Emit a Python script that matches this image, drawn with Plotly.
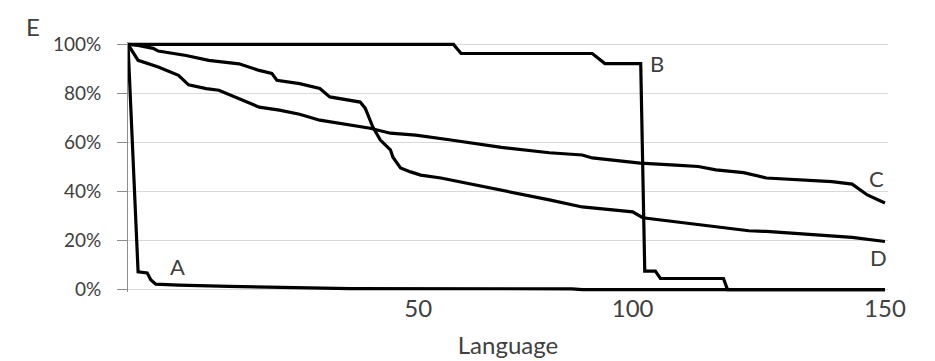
import plotly.graph_objects as go

# ---- data ----
a_x = [0, 2, 3.8, 4.5, 5.5, 10, 20, 30, 44, 88, 90, 150]
a_y = [100, 7.2, 6.8, 4, 2.2, 1.8, 1.3, 0.8, 0.4, 0.3, 0, 0]

b_x = [0, 32, 64.5, 66, 92, 94.5, 101.6, 102.4, 104.5, 105.5, 118, 118.8, 150]
b_y = [100, 100, 100, 96.3, 96.3, 92.2, 92.2, 7.5, 7.5, 4.5, 4.5, 0, 0]

c_x = [0, 2, 6, 10, 12, 15.5, 18, 22, 26, 30, 34, 38, 42, 48, 52, 57, 64, 74,
       83.5, 90, 92, 101.5, 108.5, 113, 116.5, 122, 126.5, 133, 139.5, 143.5, 146.5, 150]
c_y = [100, 93.5, 90.8, 87.4, 83.5, 82, 81.3, 78, 74.4, 73.2, 71.5, 69.1, 67.8, 65.8, 63.8, 63, 61, 58,
       55.8, 54.9, 53.7, 51.6, 50.8, 50.2, 48.8, 47.7, 45.5, 44.7, 44, 43, 38.6, 35.3]

d_x = [0, 2, 5, 6, 11.5, 16, 22, 26, 28.5, 29.5, 34, 38, 40, 44, 46, 47, 48.5, 50, 52, 52.5,
       54, 56, 58, 62, 64, 74, 83.5, 90, 100, 102, 110, 123, 126.5, 139.5, 143.5, 150]
d_y = [100, 99.6, 98.4, 97.3, 95.5, 93.5, 92.1, 89.4, 88.2, 85.4, 84, 82, 78.6, 77.2, 76.5, 74, 66.4, 61, 57, 54,
       49.6, 48, 46.7, 45.5, 44.7, 40.5, 36.6, 33.7, 31.7, 29.3, 27.2, 24, 23.7, 21.7, 21.3, 19.6]

series_names = ["A", "B", "C", "D"]
label_x = [9.9, 104.8, 148.3, 148.7]
label_y = [9.3, 92.3, 45.5, 13.0]

y_ticks = [0, 20, 40, 60, 80, 100]
y_tick_text = ["0%", "20%", "40%", "60%", "80%", "100%"]
x_tick_pos = [57.5, 100, 150]
x_tick_text = ["50", "100", "150"]
x_title = "Language"
y_title = "E"

# ---- figure ----
FONT = "Lato, 'Open Sans', sans-serif"
TXT = "#404040"

fig = go.Figure()
for name, xs, ys in zip(series_names, [a_x, b_x, c_x, d_x], [a_y, b_y, c_y, d_y]):
    fig.add_trace(go.Scatter(x=xs, y=ys, mode="lines", name=name,
                             line=dict(color="black", width=3.2), showlegend=False))

for name, lx, ly in zip(series_names, label_x, label_y):
    fig.add_annotation(x=lx, y=ly, xref="x", yref="y", text=name, showarrow=False,
                       font=dict(family=FONT, size=22, color=TXT))

fig.add_annotation(x=-0.125, y=1.06, xref="paper", yref="paper", text=y_title,
                   xanchor="center", yanchor="middle",
                   showarrow=False, font=dict(family=FONT, size=24, color=TXT))

# page body has an 8px margin, so the figure is sized/offset to compensate
fig.update_layout(
    width=927, height=353,
    margin=dict(l=120, r=47, t=33.54, b=68.54),
    paper_bgcolor="white", plot_bgcolor="white",
    font=dict(family=FONT, color=TXT),
)
fig.update_xaxes(range=[0, 150.6], showgrid=False, zeroline=False, showline=False,
                 automargin=False,
                 tickvals=x_tick_pos, ticktext=x_tick_text, ticks="",
                 tickfont=dict(size=24, color=TXT),
                 title=dict(text=x_title, font=dict(size=24, color=TXT), standoff=16))
fig.update_yaxes(range=[-1, 101], tickvals=y_ticks, ticktext=y_tick_text,
                 automargin=False,
                 showgrid=True, gridcolor="#d9d9d9", gridwidth=1, zeroline=False,
                 showline=True, linecolor="#8c8c8c", linewidth=1,
                 ticks="outside", ticklen=10, tickcolor="#8c8c8c",
                 ticklabelstandoff=12,
                 tickfont=dict(size=19, color=TXT))

fig.write_html("out.html")
